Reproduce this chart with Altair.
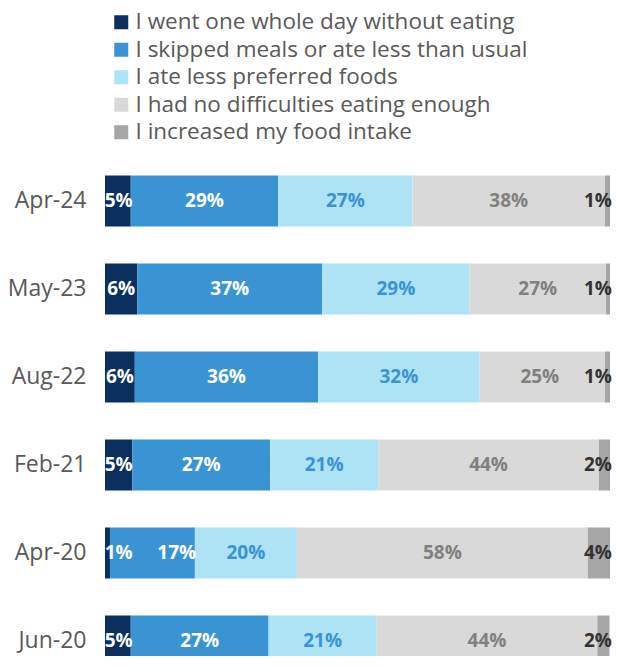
import altair as alt
import pandas as pd

periods = ["Apr-24", "May-23", "Aug-22", "Feb-21", "Apr-20", "Jun-20"]
categories = [
    "I went one whole day without eating",
    "I skipped meals or ate less than usual",
    "I ate less preferred foods",
    "I had no difficulties eating enough",
    "I increased my food intake",
]
went_day = [5.1, 6.4, 5.9, 5.4, 1.0, 5.1]
skipped = [29.2, 36.6, 36.3, 27.3, 16.8, 27.3]
less_pref = [26.6, 29.2, 32.0, 21.4, 20.2, 21.4]
no_diff = [38.1, 27.0, 24.8, 43.7, 57.6, 43.7]
increased = [1.0, 0.8, 1.0, 2.2, 4.4, 2.4]

bar_colors = ["#0b2f5e", "#3a94d4", "#aee3f5", "#d9d9d9", "#a6a6a6"]
text_colors = ["#ffffff", "#ffffff", "#3a94d4", "#808080", "#333333"]

series = [went_day, skipped, less_pref, no_diff, increased]
rows = []
for i, p in enumerate(periods):
    start = 0.0
    mids = []
    recs = []
    for c, cat in enumerate(categories):
        v = series[c][i]
        recs.append({"period": p, "category": cat, "value": v, "start": start,
                     "end": start + v, "label": f"{round(v)}%", "tcolor": text_colors[c]})
        mids.append(start + v / 2)
        start += v
    # keep labels inside the bar and apart from each other
    mids = [min(max(m, 2.7), 97.6) for m in mids]
    gap = 11.5
    if mids[1] - mids[0] < gap:
        mids[1] = mids[0] + gap
    if mids[4] - mids[3] < gap:
        mids[3] = mids[4] - gap
    for r, m in zip(recs, mids):
        r["mid"] = m
    rows.extend(recs)
df = pd.DataFrame(rows)

FONT = "Open Sans"

y_enc = alt.Y("period:N", sort=periods, title=None,
              scale=alt.Scale(paddingInner=0.4205, paddingOuter=0.21, range=[0, 528]),
              axis=alt.Axis(domain=False, ticks=False, labelPadding=19, labelFontSize=23,
                            labelFontWeight="normal", labelColor="#595959", labelFont=FONT))

bars = alt.Chart(df).mark_bar().encode(
    y=y_enc,
    x=alt.X("start:Q", scale=alt.Scale(domain=[0, 100], nice=False), axis=None),
    x2="end:Q",
    color=alt.Color("category:N", sort=categories,
                    scale=alt.Scale(domain=categories, range=bar_colors),
                    legend=alt.Legend(title=None, orient="none", legendX=5, legendY=-146,
                                      symbolType="square", symbolSize=196, symbolStrokeWidth=0,
                                      labelFontSize=22.5, labelColor="#595959", labelFont=FONT,
                                      labelLimit=600, rowPadding=4.5, labelOffset=3)),
)

texts = alt.Chart(df).mark_text(fontSize=19, fontWeight="bold", font=FONT, baseline="middle").encode(
    y=alt.Y("period:N", sort=periods),
    x=alt.X("mid:Q"),
    text="label:N",
    color=alt.Color("tcolor:N", scale=None),
)

chart = alt.layer(bars, texts).properties(
    width=505, height=499,
    autosize=alt.AutoSizeParams(type="none"),
    padding={"left": 97, "top": 149, "right": 2, "bottom": 0},
).configure_view(stroke=None)

chart.save("out.html", embed_options={"renderer": "svg", "actions": False})
